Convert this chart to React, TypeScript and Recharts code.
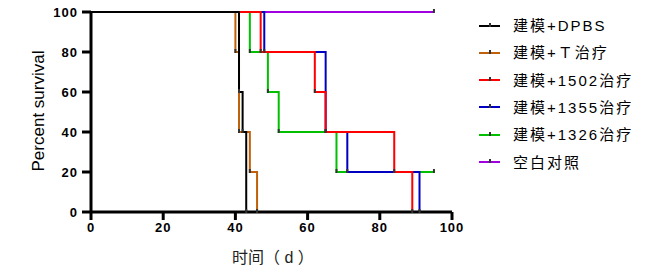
import React from "react";
import { LineChart, Line, XAxis, YAxis } from "recharts";

// survival curves (days, percent survival)
const seriesNames = ["建模+DPBS", "建模+Ｔ治疗", "建模+1502治疗", "建模+1355治疗", "建模+1326治疗", "空白对照"];
const seriesColors = ["#000000", "#C0600A", "#FF0000", "#0000C0", "#00C000", "#A000E0"];

const dpbsDays = [0, 41, 42, 43];
const dpbsSurv = [100, 60, 40, 0];
const tDays = [0, 40, 41, 44, 46];
const tSurv = [100, 80, 40, 20, 0];
const d1502Days = [0, 47, 62, 65, 84, 89];
const d1502Surv = [100, 80, 60, 40, 20, 0];
const d1355Days = [0, 48, 65, 71, 91];
const d1355Surv = [100, 80, 40, 20, 0];
const d1326Days = [0, 44, 49, 52, 68, 95];
const d1326Surv = [100, 80, 60, 40, 20, 20];
const ctrlDays = [0, 95];
const ctrlSurv = [100, 100];

const xTicks = [0, 20, 40, 60, 80, 100];
const yTicks = [0, 20, 40, 60, 80, 100];

const allDays = [dpbsDays, tDays, d1502Days, d1355Days, d1326Days, ctrlDays];
const allSurv = [dpbsSurv, tSurv, d1502Surv, d1355Surv, d1326Surv, ctrlSurv];

const series = seriesNames.map((name, i) => ({
  name,
  color: seriesColors[i],
  data: allDays[i].map((x, j) => ({ x, y: allSurv[i][j] })),
}));

const tickFont = {
  fill: "#000",
  fontSize: 13,
  fontWeight: 700,
  letterSpacing: 1,
  fontFamily: "Liberation Sans, Arial, sans-serif",
};

function TickDot(props: any) {
  const { cx, cy, index, key } = props;
  if (index === 0 || cx == null) return <g key={key} />;
  return <line key={key} x1={cx} x2={cx} y1={cy - 3} y2={cy + 1} stroke="#333" strokeWidth={2} />;
}

export default function App() {
  return (
    <div
      style={{
        position: "absolute",
        left: 0,
        top: 0,
        width: 647,
        height: 269,
        background: "#fff",
        fontFamily: "Liberation Sans, Arial, 'Noto Sans CJK SC', sans-serif",
      }}
    >
      <LineChart width={647} height={269} margin={{ top: 12, right: 195, bottom: 27, left: 35 }}>
        <XAxis
          type="number"
          dataKey="x"
          domain={[0, 100]}
          ticks={xTicks}
          allowDataOverflow
          height={30}
          tick={tickFont}
          tickSize={8}
          tickMargin={3}
          axisLine={{ stroke: "#000", strokeWidth: 3 }}
          tickLine={{ stroke: "#000", strokeWidth: 3 }}
        />
        <YAxis
          type="number"
          dataKey="y"
          domain={[0, 100]}
          ticks={yTicks}
          width={56}
          tick={tickFont}
          tickSize={9}
          tickMargin={4}
          axisLine={{ stroke: "#000", strokeWidth: 3 }}
          tickLine={{ stroke: "#000", strokeWidth: 3 }}
        />
        {[...series].reverse().map((s) => (
          <Line
            key={s.name}
            data={s.data}
            dataKey="y"
            type="stepAfter"
            stroke={s.color}
            strokeWidth={2}
            dot={TickDot}
            activeDot={false}
            isAnimationActive={false}
          />
        ))}
      </LineChart>

      <div
        style={{
          position: "absolute",
          left: 39,
          top: 111,
          transform: "translate(-50%, -50%) rotate(-90deg)",
          fontSize: 17,
          whiteSpace: "nowrap",
          color: "#000",
        }}
      >
        Percent survival
      </div>

      <div
        style={{
          position: "absolute",
          left: 232,
          top: 256,
          transform: "translateY(-50%)",
          fontSize: 16,
          whiteSpace: "nowrap",
          color: "#222",
        }}
      >
        时间（ d ）
      </div>

      {series.map((s, i) => (
        <div
          key={s.name}
          style={{
            position: "absolute",
            left: 479,
            top: 24.5 + i * 27.3 - 10,
            height: 20,
            display: "flex",
            alignItems: "center",
            whiteSpace: "nowrap",
          }}
        >
          <svg width={22} height={20} style={{ marginRight: 12 }}>
            <line x1={0} x2={21} y1={11} y2={11} stroke={s.color} strokeWidth={2} />
            <line x1={11} x2={11} y1={8} y2={12} stroke="#333" strokeWidth={2} />
          </svg>
          <span style={{ fontSize: 15, letterSpacing: 2, color: "#000" }}>{s.name}</span>
        </div>
      ))}
    </div>
  );
}
